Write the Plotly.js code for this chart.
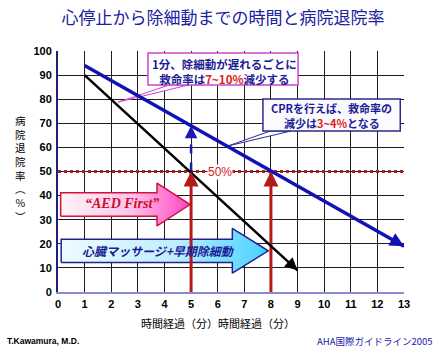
<!DOCTYPE html>
<html>
<head>
<meta charset="utf-8">
<script src="https://cdn.plot.ly/plotly-3.0.1.min.js"></script>
<style>html,body{margin:0;padding:0;background:#fff;}#chart{width:446px;height:353px;}</style>
</head>
<body>
<div id="chart"></div>
<script>
// ---- data ----
const minuteTicks = [0,1,2,3,4,5,6,7,8,9,10,11,12,13];
const rateTicks = [0,10,20,30,40,50,60,70,80,90,100];
const noCprMinutes = [1, 9];
const noCprSurvival = [90, 9];
const cprMinutes = [1, 13];
const cprSurvival = [94, 19];
const thresholdMinutes = [0, 13];
const thresholdSurvival = [50, 50];
const arrivalMinutes = [5, 8];          // minutes at which survival drops to 50%
const gainMinute = [5, 5];
const gainSurvival = [50, 69];          // survival at 5 min, without / with CPR
const titleText = '心停止から除細動までの時間と病院退院率';
const xTitleText = '時間経過（分）時間経過（分）';
const yTitleChars = ['病','院','退','院','率','︵','%','︶'];
const thresholdLabel = '50%';
const aedLabel = '“AED First”';
const cprLabel = '心臓マッサージ+早期除細動';
const note1 = '1分、除細動が遅れるごとに<br>救命率は<span style="color:#e02020">7~10%</span>減少する';
const note2a = 'CPRを行えば、救命率の';
const note2b = '減少は<span style="color:#e02020">3~4%</span>となる';
const creditText = 'T.Kawamura, M.D.';
const sourceText = 'AHA国際ガイドライン2005';

// ---- layout geometry ----
const M = {l:58, r:42, t:51, b:61};
const W = 446, H = 353;
const PW = W - M.l - M.r, PH = H - M.t - M.b;
const px = v => (v - M.l) / PW;
const py = v => (H - M.b - v) / PH;
const aedGeom = {x0:0.1, tip:4.96, headBase:3.72, bodyLo:31.4, bodyHi:41.2, headLo:27.4, headHi:45.2};
const cprGeom = {x0:0.12, tip:7.9, headBase:6.55, bodyLo:12.2, bodyHi:21.9, headLo:7.8, headHi:26.4};
function blockArrow(g){
  const m = (g.headLo + g.headHi) / 2;
  return {x:[g.x0,g.headBase,g.headBase,g.tip,g.headBase,g.headBase,g.x0,g.x0],
          y:[g.bodyLo,g.bodyLo,g.headLo,m,g.headHi,g.bodyHi,g.bodyHi,g.bodyLo]};
}
const aedPoly = blockArrow(aedGeom);
const cprPoly = blockArrow(cprGeom);
const CJK = 'Noto Sans CJK JP';
const navy = '#1c1c96';
const darkRed = '#b41a1a';

const traces = [
  {type:'scatter', mode:'lines', x:cprPoly.x, y:cprPoly.y, fill:'toself',
   fillgradient:{type:'horizontal', colorscale:[[0,'#eefaff'],[0.55,'#bfeeff'],[1,'#45d2ff']]},
   line:{color:'#22228e', width:1.5}, hoverinfo:'skip'},
  {type:'scatter', mode:'lines', x:aedPoly.x, y:aedPoly.y, fill:'toself',
   fillgradient:{type:'horizontal', colorscale:[[0,'#fff3f9'],[0.55,'#ffc4ea'],[1,'#ff46c4']]},
   line:{color:'#d0123c', width:1.5}, hoverinfo:'skip'},
  {type:'scatter', mode:'lines', x:thresholdMinutes, y:thresholdSurvival,
   line:{color:darkRed, width:3, dash:'dot'}, hoverinfo:'skip'},
  {type:'scatter', mode:'lines', x:[arrivalMinutes[0],arrivalMinutes[0]], y:[0,thresholdSurvival[0]],
   line:{color:darkRed, width:3}, hoverinfo:'skip'},
  {type:'scatter', mode:'lines', x:[arrivalMinutes[1],arrivalMinutes[1]], y:[0,thresholdSurvival[0]],
   line:{color:darkRed, width:3}, hoverinfo:'skip'},
  {type:'scatter', mode:'lines', x:gainMinute, y:[gainSurvival[0], gainSurvival[1]-3],
   line:{color:'#1a1ab4', width:2.5, dash:'dash'}, hoverinfo:'skip'},
  {type:'scatter', mode:'lines', x:noCprMinutes, y:noCprSurvival,
   line:{color:'#000', width:2.5}, hoverinfo:'skip'},
  {type:'scatter', mode:'lines', x:cprMinutes, y:cprSurvival,
   line:{color:'#1212b4', width:3.5}, hoverinfo:'skip'}
];

function head(x, y, ax, ay, color, width, size){
  return {x:x, y:y, ax:ax, ay:ay, xref:'x', yref:'y', axref:'x', ayref:'y', text:'',
          showarrow:true, arrowhead:2, arrowsize:size, arrowwidth:width, arrowcolor:color, standoff:0};
}
const bSlope = (noCprSurvival[1]-noCprSurvival[0])/(noCprMinutes[1]-noCprMinutes[0]);
const cSlope = (cprSurvival[1]-cprSurvival[0])/(cprMinutes[1]-cprMinutes[0]);

const annotations = [
  head(noCprMinutes[1], noCprSurvival[1], noCprMinutes[1]-0.3, noCprSurvival[1]-0.3*bSlope, '#000', 2.5, 1),
  head(cprMinutes[1], cprSurvival[1], cprMinutes[1]-0.4, cprSurvival[1]-0.4*cSlope, '#1212b4', 3.5, 0.8),
  head(arrivalMinutes[0], thresholdSurvival[0], arrivalMinutes[0], thresholdSurvival[0]-6, darkRed, 3, 1),
  head(arrivalMinutes[1], thresholdSurvival[0], arrivalMinutes[1], thresholdSurvival[0]-6, darkRed, 3, 1),
  head(gainMinute[1], gainSurvival[1], gainMinute[1], gainSurvival[1]-5, '#1a1ab4', 2.5, 1),
  {x:6.08, y:thresholdSurvival[0], xref:'x', yref:'y', text:thresholdLabel, showarrow:false,
   bgcolor:'#fff', borderpad:0, font:{family:'Liberation Sans', size:12, color:'#d42020'}},
  {x:2.39, y:36.6, xref:'x', yref:'y', text:aedLabel, showarrow:false,
   font:{family:'Liberation Serif', size:14, color:'#c8102e', style:'italic', weight:'bold'}},
  {x:3.76, y:17.2, xref:'x', yref:'y', text:cprLabel, showarrow:false,
   font:{family:CJK, size:12, color:navy, style:'italic', weight:'bold'}},
  {x:6.24, y:91.7, xref:'x', yref:'y', text:note1, showarrow:false, align:'center',
   font:{family:CJK, size:11.5, color:navy, weight:'bold'}},
  {x:px(331.5), y:py(108.3), xref:'paper', yref:'paper', text:note2a, showarrow:false,
   xanchor:'center', yanchor:'middle', font:{family:CJK, size:11, color:navy, weight:'bold'}},
  {x:px(331.5), y:py(123.3), xref:'paper', yref:'paper', text:note2b, showarrow:false,
   xanchor:'center', yanchor:'middle', font:{family:CJK, size:11, color:navy, weight:'bold'}},
  {x:px(218), y:py(323), xref:'paper', yref:'paper', text:xTitleText, showarrow:false,
   xanchor:'center', yanchor:'middle', font:{family:CJK, size:11, color:'#000'}},
  {x:px(5), y:py(341), xref:'paper', yref:'paper', text:creditText, showarrow:false,
   xanchor:'left', yanchor:'middle', font:{family:'Liberation Sans', size:8.5, color:'#000', weight:'bold'}},
  {x:px(435), y:py(341), xref:'paper', yref:'paper', text:sourceText, showarrow:false,
   xanchor:'right', yanchor:'middle', font:{family:CJK, size:9.5, color:'#1a1aa8'}},
  {x:px(20), y:py(168), xref:'paper', yref:'paper', text:yTitleChars.join('<br>'), showarrow:false,
   xanchor:'center', yanchor:'middle', align:'center', font:{family:CJK, size:10.5, color:'#000'}}
];

const shapes = [
  {type:'path', xref:'x', yref:'y', path:'M 4.18,85.9 L 2.26,78.8 L 4.9,85.9 Z',
   line:{color:'#cc44cc', width:1}, fillcolor:'#fff', layer:'between'},
  {type:'rect', xref:'x', yref:'y', x0:3.38, x1:9.02, y0:85.9, y1:99.2,
   line:{color:'#cc44cc', width:1.5}, fillcolor:'#fff', layer:'between'},
  {type:'path', xref:'x', yref:'y', path:'M 7.98,66.8 L 6.39,60.6 L 8.75,66.8 Z',
   line:{color:'#2a2a90', width:1}, fillcolor:'#fff', layer:'between'},
  {type:'rect', xref:'x', yref:'y', x0:7.7, x1:12.86, y0:66.8, y1:80.1,
   line:{color:'#2a2a90', width:1.5}, fillcolor:'#fbfbff', layer:'between'}
];

const layout = {
  width:W, height:H, margin:M, paper_bgcolor:'#fff', plot_bgcolor:'#fff', showlegend:false,
  font:{family:'Liberation Sans', color:'#000'},
  title:{text:titleText, x:0.5, xref:'container', xanchor:'center', y:1-18/H, yref:'container', yanchor:'middle',
         font:{family:CJK, size:17, color:'#2020a0'}},
  xaxis:{range:[0,13], tickvals:minuteTicks, ticktext:minuteTicks.map(String), showgrid:true,
         gridcolor:'#1e1e1e', gridwidth:1, zeroline:false, showline:true, linecolor:'#8a8ad2', linewidth:2,
         ticks:'outside', ticklen:1, tickcolor:'rgba(0,0,0,0)',
         tickfont:{family:'Liberation Sans', size:11, color:'#000', weight:'bold'}, fixedrange:true},
  yaxis:{range:[0,100], tickvals:rateTicks, ticktext:rateTicks.map(String), showgrid:true,
         gridcolor:'#1e1e1e', gridwidth:1, zeroline:false, showline:true, linecolor:'#20207a', linewidth:2,
         ticks:'outside', ticklen:2, tickcolor:'rgba(0,0,0,0)',
         tickfont:{family:'Liberation Sans', size:11, color:'#000', weight:'bold'}, fixedrange:true},
  shapes:shapes, annotations:annotations
};
Plotly.newPlot('chart', traces, layout, {staticPlot:true, displayModeBar:false});
</script>
</body>
</html>
